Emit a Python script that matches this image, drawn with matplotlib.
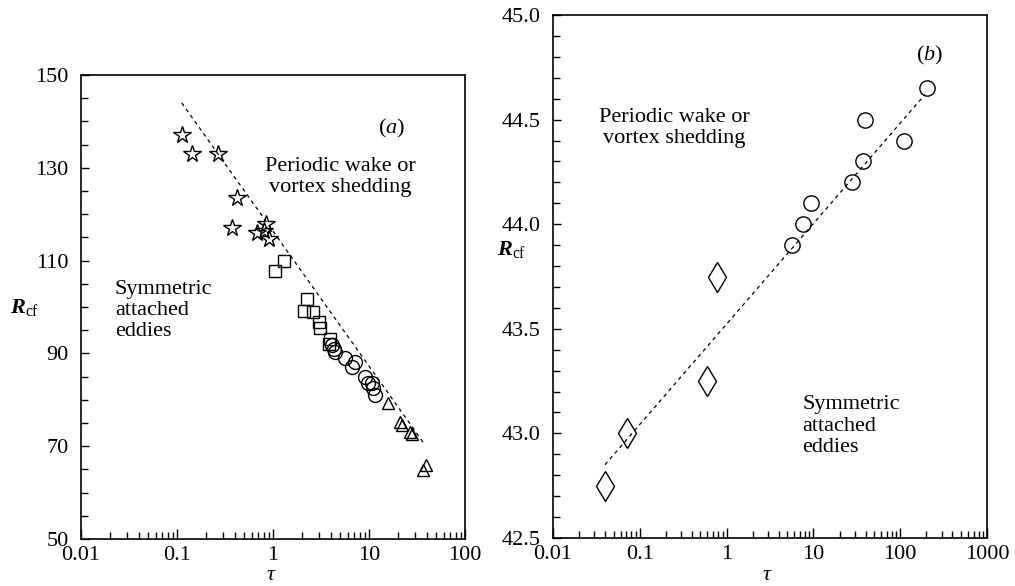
import matplotlib
matplotlib.use("Agg")
import matplotlib.pyplot as plt
from matplotlib.ticker import FixedLocator, LogLocator, NullFormatter, FuncFormatter

# ---- data (a): critical Reynolds number vs tau ----
star_tau = [0.112, 0.142, 0.269, 0.419, 0.377, 0.676, 0.845, 0.914, 0.80]
star_R = [137, 133, 133, 123.6, 117, 115.9, 117.9, 114.7, 116.3]

square_tau = [1.30, 1.05, 2.24, 2.10, 2.63, 3.04, 3.09, 3.92, 3.80]
square_R = [110, 107.8, 101.7, 99.2, 99.0, 96.8, 95.4, 93.0, 92.0]

circle_tau = [4.08, 4.30, 4.43, 5.62, 7.14, 6.60, 9.08, 9.84, 10.7, 11.1, 11.5]
circle_R = [91.8, 91.0, 90.4, 89.0, 88.2, 87.1, 85.0, 83.6, 83.6, 82.5, 81.0]

tri_tau = [15.9, 21.0, 22.0, 26.7, 28.0, 38.9, 36.8]
tri_R = [79.4, 75.3, 74.5, 73.1, 72.6, 66.0, 64.9]

fit_a_tau = [0.112, 38.3]
fit_a_R = [144, 70.3]

# ---- data (b) ----
circ_b_tau = [5.71, 7.54, 9.38, 28.0, 37.6, 39.3, 111, 205]
circ_b_R = [43.9, 44.0, 44.1, 44.2, 44.3, 44.5, 44.4, 44.65]

diam_tau = [0.040, 0.0718, 0.59, 0.78]
diam_R = [42.75, 43.0, 43.25, 43.75]

fit_b_tau = [0.0397, 193]
fit_b_R = [42.85, 44.62]

serif = "Liberation Serif"
plt.rcParams["font.family"] = [serif, "DejaVu Serif"]
plt.rcParams["mathtext.fontset"] = "custom"
plt.rcParams["mathtext.rm"] = serif
plt.rcParams["mathtext.it"] = serif + ":italic"
plt.rcParams["mathtext.bf"] = serif + ":bold"
plt.rcParams["mathtext.bfit"] = serif + ":italic:bold"

FS = 16
LS = 1.15
mk = dict(linestyle="none", mfc="none", mec="black", mew=1.0)
dash = dict(color="black", lw=0.9, linestyle=(0, (3, 3)))


def log_fmt(v, pos):
    return f"{v:g}"


def style(ax, xmin, xmax):
    ax.set_xscale("log")
    ax.set_xlim(xmin, xmax)
    ax.xaxis.set_major_locator(LogLocator(base=10))
    ax.xaxis.set_minor_locator(LogLocator(base=10, subs=range(2, 10)))
    ax.xaxis.set_major_formatter(FuncFormatter(log_fmt))
    ax.xaxis.set_minor_formatter(NullFormatter())
    ax.tick_params(which="both", direction="in", top=False, right=False,
                   labelsize=FS, width=1.0)
    ax.tick_params(axis="y", which="major", length=6, pad=9)
    ax.tick_params(axis="y", which="minor", length=5)
    ax.tick_params(axis="x", which="major", length=7, pad=5)
    ax.tick_params(axis="x", which="minor", length=5)
    for s in ax.spines.values():
        s.set_linewidth(1.2)


fig = plt.figure(figsize=(10.15, 5.86), dpi=100)

# panel (a)
ax1 = fig.add_axes([0.0798, 0.0802, 0.3783, 0.7918])
ax1.plot(fit_a_tau, fit_a_R, **dash)
ax1.plot(star_tau, star_R, marker="*", ms=13, **mk)
ax1.plot(square_tau, square_R, marker="s", ms=9, **mk)
ax1.plot(circle_tau, circle_R, marker="o", ms=10, **mk)
ax1.plot(tri_tau, tri_R, marker="^", ms=9, **mk)
style(ax1, 0.01, 100)
ax1.set_ylim(50, 150)
ax1.yaxis.set_major_locator(FixedLocator([50, 70, 90, 110, 130, 150]))
ax1.yaxis.set_minor_locator(FixedLocator(range(50, 151, 5)))
ax1.text(0.81, 0.885, r"$(\mathit{a})$", transform=ax1.transAxes,
         fontsize=FS, ha="center", va="center")
ax1.text(0.675, 0.78, "Periodic wake or\nvortex shedding", transform=ax1.transAxes,
         fontsize=FS, ha="center", va="center", linespacing=LS)
ax1.text(0.088, 0.492, "Symmetric\nattached\neddies", transform=ax1.transAxes,
         fontsize=FS, ha="left", va="center", linespacing=LS)
fig.text(25 / 1015, 1 - 307 / 586, r"$\mathbfit{R}_{\mathrm{cf}}$", fontsize=FS,
         ha="center", va="center")
fig.text(271 / 1015, 1 - 575 / 586, r"$\tau$", fontsize=FS, ha="center", va="center")

# panel (b)
ax2 = fig.add_axes([0.5448, 0.0819, 0.4276, 0.8925])
ax2.plot(fit_b_tau, fit_b_R, **dash)
ax2.plot(circ_b_tau, circ_b_R, marker="o", ms=11, **mk)
ax2.plot(diam_tau, diam_R, marker="d", ms=15, **mk)
style(ax2, 0.01, 1000)
ax2.set_ylim(42.5, 45.0)
ax2.yaxis.set_major_locator(FixedLocator([42.5, 43.0, 43.5, 44.0, 44.5, 45.0]))
ax2.yaxis.set_minor_locator(FixedLocator([42.5 + 0.1 * i for i in range(26)]))
ax2.yaxis.set_major_formatter(FuncFormatter(lambda v, p: f"{v:.1f}"))
ax2.text(0.867, 0.922, r"$(\mathit{b})$", transform=ax2.transAxes,
         fontsize=FS, ha="center", va="center")
ax2.text(0.28, 0.784, "Periodic wake or\nvortex shedding", transform=ax2.transAxes,
         fontsize=FS, ha="center", va="center", linespacing=LS)
ax2.text(0.574, 0.214, "Symmetric\nattached\neddies", transform=ax2.transAxes,
         fontsize=FS, ha="left", va="center", linespacing=LS)
fig.text(512 / 1015, 1 - 250 / 586, r"$\mathbfit{R}_{\mathrm{cf}}$", fontsize=FS,
         ha="center", va="center")
fig.text(767 / 1015, 1 - 575 / 586, r"$\tau$", fontsize=FS, ha="center", va="center")

fig.savefig("out.png", dpi=100)
